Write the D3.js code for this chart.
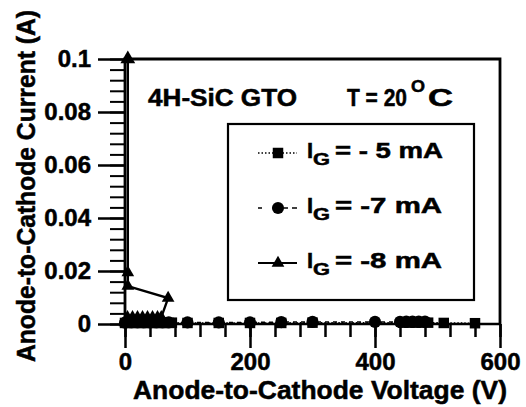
<!DOCTYPE html>
<html>
<head>
  <meta charset="utf-8">
  <script src="https://d3js.org/d3.v7.min.js"></script>
  <style>
    body { margin: 0; background: #fff; }
    text { font-family: "Liberation Sans", Arial, Helvetica, sans-serif; font-weight: bold; fill: #000;
           stroke: #000; stroke-width: 0.5px; }
  </style>
</head>
<body>
<script>
  // values (V in volts, I in amps)
  var vSquare = [0, 5, 10, 15, 20, 25, 30, 35, 40, 45, 50, 55, 60, 65, 70, 75, 100, 150, 200, 250, 300, 445, 455, 465, 475, 485, 510, 560];
  var iSquare = [0.0004, 0.0005, 0.0004, 0.0005, 0.0004, 0.0005, 0.0004, 0.0005, 0.0004, 0.0005, 0.0004, 0.0005, 0.0004, 0.0005, 0.0004, 0.0005, 0.0004, 0.0004, 0.0004, 0.0004, 0.0005, 0.0005, 0.0005, 0.0005, 0.0005, 0.0005, 0.0004, 0.0003];

  var vCircle = [0, 10, 20, 30, 40, 50, 60, 70, 100, 150, 200, 250, 300, 400, 440, 450, 460, 470, 480];
  var iCircle = [0.0005, 0.0006, 0.0006, 0.0006, 0.0006, 0.0006, 0.0006, 0.0006, 0.0006, 0.0006, 0.0006, 0.0007, 0.0008, 0.0008, 0.0008, 0.0009, 0.0009, 0.0009, 0.0009];

  var vTriangle = [0, 4, 12, 20, 28, 36, 44, 52, 58, 69, 4.5, 4.5, 4.5];
  var iTriangle = [0.0005, 0.0025, 0.0025, 0.0025, 0.0025, 0.0025, 0.0025, 0.0025, 0.0025, 0.0098, 0.0143, 0.0194, 0.1];

  var legendLabels = ["= - 5 mA", "= -7 mA", "= -8 mA"];
  var yTicks = [0, 0.02, 0.04, 0.06, 0.08, 0.1];
  var xTicks = [0, 200, 400, 600];

  var width = 526, height = 407;

  var svg = d3.select("body").append("svg")
      .attr("width", width)
      .attr("height", height);

  var x = d3.scaleLinear().domain([0, 600]).range([125, 500]);
  var y = d3.scaleLinear().domain([0, 0.1]).range([324, 59]);

  // minor ticks
  svg.append("g")
      .attr("transform", "translate(125,0)")
      .call(d3.axisLeft(y).tickValues(d3.range(0, 0.1001, 0.004)).tickSize(15).tickFormat("").tickSizeOuter(0))
      .call(function(g) { g.select(".domain").remove(); })
      .selectAll("line").attr("stroke-width", 2);

  svg.append("g")
      .attr("transform", "translate(0,324)")
      .call(d3.axisBottom(x).tickValues(d3.range(0, 601, 40)).tickSize(13).tickFormat("").tickSizeOuter(0))
      .call(function(g) { g.select(".domain").remove(); })
      .selectAll("line").attr("stroke-width", 2.5);

  // major ticks + labels
  var yAxis = svg.append("g")
      .attr("transform", "translate(125,0)")
      .call(d3.axisLeft(y).tickValues(yTicks).tickSize(27).tickPadding(7).tickSizeOuter(0)
        .tickFormat(function(d) { return d === 0 ? "0" : d3.format(".2~f")(d); }));
  yAxis.select(".domain").remove();
  yAxis.selectAll("line").attr("stroke-width", 2.5);
  yAxis.selectAll("text").style("font-size", "24px").attr("fill", "#000");

  var xAxis = svg.append("g")
      .attr("transform", "translate(0,324)")
      .call(d3.axisBottom(x).tickValues(xTicks).tickSize(24).tickPadding(5).tickSizeOuter(0));
  xAxis.select(".domain").remove();
  xAxis.selectAll("line").attr("stroke-width", 2.5);
  xAxis.selectAll("text").style("font-size", "24px").attr("fill", "#000");

  // frame
  svg.append("path")
      .attr("d", "M" + x(0) + "," + y(0) + "V" + y(0.1) + "H" + x(600) + "V" + y(0))
      .attr("fill", "none").attr("stroke", "#000").attr("stroke-width", 2.8);
  svg.append("line")
      .attr("x1", x(0)).attr("x2", x(600)).attr("y1", y(0)).attr("y2", y(0))
      .attr("stroke", "#000").attr("stroke-width", 2.5);

  // axis titles
  svg.append("text")
      .attr("transform", "translate(35,186) rotate(-90)")
      .attr("text-anchor", "middle")
      .attr("textLength", 352).attr("lengthAdjust", "spacingAndGlyphs")
      .style("font-size", "25px")
      .text("Anode-to-Cathode Current (A)");

  svg.append("text")
      .attr("x", 133).attr("y", 399)
      .attr("textLength", 374).attr("lengthAdjust", "spacingAndGlyphs")
      .style("font-size", "25px")
      .text("Anode-to-Cathode Voltage (V)");

  // series
  var line = d3.line().x(function(d) { return x(d[0]); }).y(function(d) { return y(d[1]); });
  var sq = d3.zip(vSquare, iSquare),
      ci = d3.zip(vCircle, iCircle),
      tr = d3.zip(vTriangle, iTriangle);

  svg.append("path").datum(sq).attr("d", line)
      .attr("fill", "none").attr("stroke", "#000").attr("stroke-width", 1.5).attr("stroke-dasharray", "1.5,2");
  svg.append("path").datum(ci).attr("d", line)
      .attr("fill", "none").attr("stroke", "#000").attr("stroke-width", 1.5).attr("stroke-dasharray", "4,4");
  svg.append("path").datum(tr).attr("d", line)
      .attr("fill", "none").attr("stroke", "#000").attr("stroke-width", 2.4);

  var symSq = d3.symbol(d3.symbolSquare, 110),
      symCi = d3.symbol(d3.symbolCircle, 115),
      symTr = d3.symbol(d3.symbolTriangle, 70);

  svg.append("g").selectAll("path").data(sq).join("path")
      .attr("transform", function(d) { return "translate(" + x(d[0]) + "," + y(d[1]) + ")"; })
      .attr("d", symSq).attr("fill", "#000");
  svg.append("g").selectAll("path").data(ci).join("path")
      .attr("transform", function(d) { return "translate(" + x(d[0]) + "," + y(d[1]) + ")"; })
      .attr("d", symCi).attr("fill", "#000");
  svg.append("g").selectAll("path").data(tr).join("path")
      .attr("transform", function(d) { return "translate(" + x(d[0]) + "," + y(d[1]) + ")"; })
      .attr("d", function(d) { return d[1] === 0.1 ? d3.symbol(d3.symbolTriangle, 95)() : symTr(); })
      .attr("fill", "#000");

  // annotation
  svg.append("text").attr("x", 148).attr("y", 106)
      .attr("textLength", 149).attr("lengthAdjust", "spacingAndGlyphs")
      .style("font-size", "23px").text("4H-SiC GTO");
  svg.append("text").attr("x", 347).attr("y", 106)
      .attr("textLength", 60).attr("lengthAdjust", "spacingAndGlyphs")
      .style("font-size", "23px").text("T = 20");
  svg.append("text").attr("x", 411).attr("y", 92)
      .attr("textLength", 14).attr("lengthAdjust", "spacingAndGlyphs")
      .style("font-size", "16px").text("O");
  svg.append("text").attr("x", 428).attr("y", 106)
      .attr("textLength", 25).attr("lengthAdjust", "spacingAndGlyphs")
      .style("font-size", "23px").text("C");

  // legend
  svg.append("rect")
      .attr("x", 228).attr("y", 124).attr("width", 246).attr("height", 176)
      .attr("fill", "none").attr("stroke", "#000").attr("stroke-width", 2.2);

  var rows = svg.append("g").selectAll("g").data(legendLabels).join("g")
      .attr("transform", function(d, i) { return "translate(0," + (153 + i * 55) + ")"; });

  rows.append("line")
      .attr("x1", 258).attr("x2", 297)
      .attr("stroke", "#000")
      .attr("stroke-width", function(d, i) { return i === 2 ? 2.2 : 1.5; })
      .attr("stroke-dasharray", function(d, i) { return i === 0 ? "1.5,2" : i === 1 ? "4,11,0,11,4" : null; });

  rows.append("path")
      .attr("transform", "translate(278,0)")
      .attr("d", function(d, i) { return [symSq, symCi, symTr][i](); })
      .attr("fill", "#000");

  rows.append("text").attr("x", 307).attr("y", 5)
      .style("font-size", "22px").text("I");
  rows.append("text").attr("x", 313).attr("y", 12)
      .attr("textLength", 17).attr("lengthAdjust", "spacingAndGlyphs")
      .style("font-size", "16px").text("G");
  rows.append("text").attr("x", 335).attr("y", 5)
      .attr("textLength", function(d, i) { return i === 0 ? 108 : 107; }).attr("lengthAdjust", "spacingAndGlyphs")
      .style("font-size", "22px").text(function(d) { return d; });
</script>
</body>
</html>
